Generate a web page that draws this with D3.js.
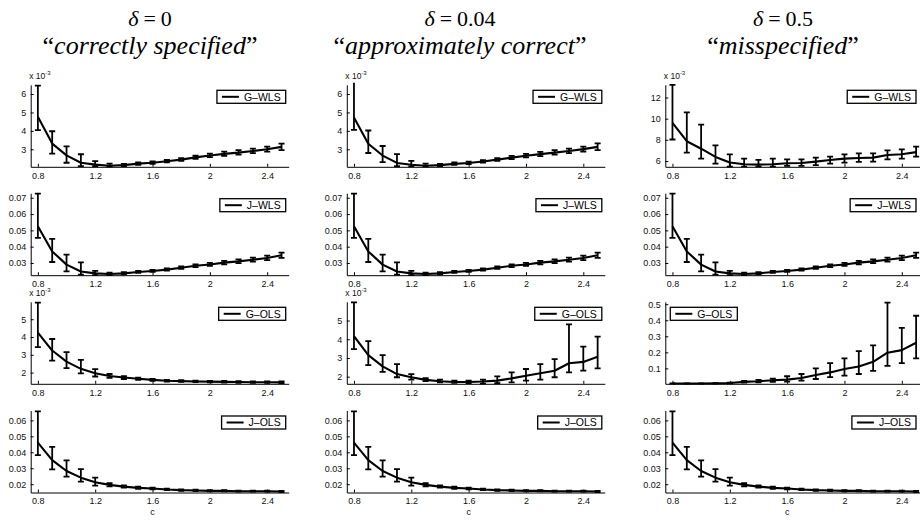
<!DOCTYPE html>
<html><head><meta charset="utf-8">
<script src="https://cdn.jsdelivr.net/npm/d3@7"></script>
<style>
body{margin:0;background:#fff}svg{display:block}
.serif{font-family:"Liberation Serif","Times New Roman",Times,"DejaVu Serif","Noto Serif",serif}
.sans{font-family:"Liberation Sans",Arial,Helvetica,sans-serif}
</style>
</head><body><svg id="chart" width="920" height="520"></svg>
<script>
// ---------- data ----------
const cValues = [0.8,0.9,1.0,1.1,1.2,1.3,1.4,1.5,1.6,1.7,1.8,1.9,2.0,2.1,2.2,2.3,2.4,2.5];
const xTicks = [0.8,1.2,1.6,2,2.4];

const columnTitles = ["0", "0.04", "0.5"];
const columnSubtitles = ["correctly specified", "approximately correct", "misspecified"];
const seriesNames = ["G–WLS", "J–WLS", "G–OLS", "J–OLS"];

// G-WLS (x 10^-3)
const gwlsD0Mean = [4.76,3.31,2.67,2.27,2.17,2.11,2.14,2.22,2.27,2.35,2.44,2.56,2.66,2.75,2.82,2.91,3.00,3.13];
const gwlsD0Lo   = [4.04,2.77,2.27,2.09,2.08,2.06,2.09,2.16,2.21,2.29,2.37,2.48,2.57,2.64,2.71,2.79,2.87,2.96];
const gwlsD0Hi   = [6.45,3.98,3.16,2.73,2.36,2.22,2.21,2.29,2.34,2.42,2.52,2.65,2.76,2.87,2.95,3.04,3.14,3.31];
const gwlsD004Mean = [4.72,3.30,2.66,2.26,2.16,2.11,2.14,2.21,2.26,2.34,2.44,2.55,2.65,2.74,2.82,2.91,3.01,3.13];
const gwlsD004Lo   = [4.05,2.80,2.30,2.08,2.07,2.06,2.09,2.15,2.20,2.28,2.37,2.47,2.56,2.63,2.71,2.79,2.88,2.96];
const gwlsD004Hi   = [6.70,4.02,3.18,2.74,2.37,2.22,2.21,2.29,2.33,2.41,2.52,2.64,2.75,2.86,2.95,3.04,3.15,3.32];
const gwlsD05Mean = [9.60,7.87,7.16,6.38,5.85,5.69,5.66,5.69,5.78,5.81,5.94,6.10,6.22,6.28,6.32,6.56,6.63,6.84];
const gwlsD05Lo   = [8.03,6.79,6.22,5.75,5.47,5.47,5.47,5.47,5.53,5.53,5.60,5.75,5.85,5.91,5.94,6.16,6.22,6.41];
const gwlsD05Hi   = [13.2,10.6,9.44,7.47,6.63,6.22,6.10,6.22,6.16,6.16,6.32,6.41,6.63,6.72,6.72,7.00,7.10,7.35];

// J-WLS (same for all three columns)
const jwlsMean = [0.0525,0.0371,0.0290,0.0248,0.0236,0.0232,0.0236,0.0245,0.0251,0.0259,0.0271,0.0283,0.0291,0.0302,0.0310,0.0320,0.0331,0.0347];
const jwlsLo   = [0.0454,0.0306,0.0248,0.0228,0.0226,0.0226,0.0230,0.0239,0.0245,0.0253,0.0264,0.0275,0.0282,0.0292,0.0299,0.0308,0.0318,0.0331];
const jwlsHi   = [0.0725,0.0448,0.0351,0.0304,0.0252,0.0240,0.0243,0.0252,0.0258,0.0266,0.0279,0.0292,0.0301,0.0313,0.0322,0.0333,0.0345,0.0363];

// G-OLS
const golsD0Mean = [4.25,3.24,2.62,2.21,1.96,1.81,1.72,1.65,1.59,1.54,1.52,1.50,1.49,1.48,1.47,1.46,1.46,1.45];
const golsD0Lo   = [3.43,2.67,2.25,1.96,1.78,1.71,1.64,1.59,1.54,1.50,1.48,1.46,1.45,1.44,1.43,1.42,1.42,1.41];
const golsD0Hi   = [5.93,3.89,3.15,2.71,2.19,1.92,1.80,1.72,1.65,1.59,1.57,1.55,1.54,1.53,1.52,1.51,1.51,1.50];
const golsD004Mean = [4.17,3.15,2.55,2.14,1.97,1.83,1.76,1.72,1.72,1.74,1.79,1.91,2.05,2.18,2.32,2.72,2.79,3.06];
const golsD004Lo   = [3.47,2.62,2.26,1.97,1.84,1.76,1.70,1.67,1.66,1.63,1.65,1.70,1.79,1.84,1.97,2.23,2.32,2.44];
const golsD004Hi   = [5.97,3.90,3.15,2.67,2.14,1.92,1.84,1.79,1.79,1.84,2.02,2.23,2.41,2.67,2.94,4.79,3.61,4.14];
const golsD05Mean = [0.006,0.006,0.006,0.007,0.009,0.016,0.020,0.026,0.030,0.040,0.059,0.075,0.096,0.112,0.141,0.198,0.214,0.260];
const golsD05Lo   = [0.005,0.005,0.005,0.006,0.007,0.011,0.013,0.016,0.018,0.024,0.034,0.045,0.055,0.065,0.085,0.116,0.133,0.163];
const golsD05Hi   = [0.007,0.007,0.007,0.008,0.011,0.022,0.028,0.036,0.051,0.065,0.100,0.133,0.162,0.208,0.243,0.510,0.352,0.428];

// J-OLS (same for all three columns)
const jolsMean = [0.0461,0.0351,0.0283,0.0241,0.0212,0.0196,0.0185,0.0177,0.0173,0.0167,0.0163,0.0161,0.0158,0.0158,0.0156,0.0156,0.0156,0.0154];
const jolsLo   = [0.0382,0.0293,0.0247,0.0216,0.0191,0.0186,0.0178,0.0171,0.0168,0.0163,0.0159,0.0157,0.0155,0.0155,0.0153,0.0153,0.0153,0.0151];
const jolsHi   = [0.0656,0.0434,0.0349,0.0295,0.0241,0.0207,0.0193,0.0184,0.0179,0.0172,0.0168,0.0166,0.0162,0.0162,0.0160,0.0160,0.0160,0.0158];

// y-axis ticks per panel
const yTicksGwls = [3,4,5,6];
const yTicksGwls05 = [6,8,10,12];
const yTicksJwls = [0.03,0.04,0.05,0.06,0.07];
const yTicksGols = [2,3,4,5];
const yTicksGols05 = [0.1,0.2,0.3,0.4,0.5];
const yTicksJols = [0.02,0.03,0.04,0.05,0.06];

// ---------- layout ----------
const colLeft = [30.7, 346.8, 665.3];
const rowTop = [84.8, 193.2, 301.8, 410.5];
const axW = 258, axH = 82;
const xDomain = [0.75, 2.55];
const titleCenter = [150, 460, 783];

const panels = [
  {col:0,row:0,name:seriesNames[0],m:gwlsD0Mean,lo:gwlsD0Lo,hi:gwlsD0Hi,ylim:[2.05,6.5],ticks:yTicksGwls,exp:true,leg:"r"},
  {col:1,row:0,name:seriesNames[0],m:gwlsD004Mean,lo:gwlsD004Lo,hi:gwlsD004Hi,ylim:[2.05,6.5],ticks:yTicksGwls,exp:true,leg:"r"},
  {col:2,row:0,name:seriesNames[0],m:gwlsD05Mean,lo:gwlsD05Lo,hi:gwlsD05Hi,ylim:[5.45,13.2],ticks:yTicksGwls05,exp:true,leg:"r"},
  {col:0,row:1,name:seriesNames[1],m:jwlsMean,lo:jwlsLo,hi:jwlsHi,ylim:[0.0225,0.0728],ticks:yTicksJwls,exp:false,leg:"r"},
  {col:1,row:1,name:seriesNames[1],m:jwlsMean,lo:jwlsLo,hi:jwlsHi,ylim:[0.0225,0.0728],ticks:yTicksJwls,exp:false,leg:"r"},
  {col:2,row:1,name:seriesNames[1],m:jwlsMean,lo:jwlsLo,hi:jwlsHi,ylim:[0.0225,0.0728],ticks:yTicksJwls,exp:false,leg:"r"},
  {col:0,row:2,name:seriesNames[2],m:golsD0Mean,lo:golsD0Lo,hi:golsD0Hi,ylim:[1.37,5.98],ticks:yTicksGols,exp:true,leg:"r"},
  {col:1,row:2,name:seriesNames[2],m:golsD004Mean,lo:golsD004Lo,hi:golsD004Hi,ylim:[1.62,6.0],ticks:yTicksGols,exp:true,leg:"r"},
  {col:2,row:2,name:seriesNames[2],m:golsD05Mean,lo:golsD05Lo,hi:golsD05Hi,ylim:[0.004,0.515],ticks:yTicksGols05,exp:false,leg:"l"},
  {col:0,row:3,name:seriesNames[3],m:jolsMean,lo:jolsLo,hi:jolsHi,ylim:[0.0148,0.0662],ticks:yTicksJols,exp:false,leg:"r"},
  {col:1,row:3,name:seriesNames[3],m:jolsMean,lo:jolsLo,hi:jolsHi,ylim:[0.0148,0.0662],ticks:yTicksJols,exp:false,leg:"r"},
  {col:2,row:3,name:seriesNames[3],m:jolsMean,lo:jolsLo,hi:jolsHi,ylim:[0.0148,0.0662],ticks:yTicksJols,exp:false,leg:"r"}
];

const svg = d3.select("#chart");

// titles
function titleLine(i, y, size, build) {
  const t = svg.append("text").attr("class", "serif").attr("x", titleCenter[i]).attr("y", y)
    .attr("text-anchor", "middle").attr("fill", "#000").style("font-size", size + "px");
  build(t);
  return t;
}
const line2 = [];
columnTitles.forEach((tt, i) => {
  titleLine(i, 26, 22, t => {
    t.append("tspan").attr("font-style", "italic").text("δ");
    t.append("tspan").attr("dx", 5).text("=");
    t.append("tspan").attr("dx", 5).text(tt);
  });
  line2.push(titleLine(i, 53.5, 20, t => {
    t.append("tspan").text("\u201C");
    t.append("tspan").attr("font-style", "italic").text(columnSubtitles[i]);
    t.append("tspan").text("\u201D");
  }));
});
const w2 = line2[0].node().getComputedTextLength();
const fs2 = Math.min(26, 20 * 217 / w2);
line2.forEach(t => t.style("font-size", fs2 + "px"));

const defs = svg.append("defs");

panels.forEach((p, idx) => {
  const x0 = colLeft[p.col], y0 = rowTop[p.row];
  const x = d3.scaleLinear().domain(xDomain).range([x0, x0 + axW]);
  const y = d3.scaleLinear().domain(p.ylim).range([y0 + axH, y0]);
  const g = svg.append("g");

  const xa = g.append("g").attr("transform", `translate(0,${y0 + axH})`)
    .call(d3.axisBottom(x).tickValues(xTicks).tickSize(-3).tickSizeOuter(0).tickPadding(5.5).tickFormat(d => String(d)));
  const ya = g.append("g").attr("transform", `translate(${x0},0)`)
    .call(d3.axisLeft(y).tickValues(p.ticks).tickSize(-3).tickSizeOuter(0).tickPadding(4.5).tickFormat(d => String(d)));
  [xa, ya].forEach(a => {
    a.attr("font-family", null).attr("font-size", null).attr("class", "sans").style("font-size", "9px");
    a.selectAll("path.domain").attr("stroke", "#000").attr("stroke-width", 1);
    a.selectAll(".tick line").attr("stroke", "#000").attr("stroke-width", 1);
    a.selectAll(".tick text").attr("fill", "#111");
  });

  if (p.exp) {
    const e = g.append("text").attr("class", "sans").attr("x", x0 - 1.5).attr("y", y0 - 5.5)
      .style("font-size", "8.5px").attr("fill", "#111");
    e.append("tspan").text("x 10");
    e.append("tspan").style("font-size", "6px").attr("dy", -4).text("-3");
  }

  const clipId = "clip" + idx;
  defs.append("clipPath").attr("id", clipId).append("rect")
    .attr("x", x0 - 1).attr("y", y0 - 2).attr("width", axW + 2).attr("height", axH + 3);
  const plot = g.append("g").attr("clip-path", `url(#${clipId})`);

  const pts = cValues.map((c, i) => ({c, m: p.m[i], lo: p.lo[i], hi: p.hi[i]}));
  const bars = plot.append("g").attr("stroke", "#000").attr("stroke-width", 1.8).attr("fill", "none");
  pts.forEach(d => {
    const xc = x(d.c);
    bars.append("path").attr("d",
      `M${xc},${y(d.lo)}V${y(d.hi)}M${xc - 3},${y(d.lo)}H${xc + 3}M${xc - 3},${y(d.hi)}H${xc + 3}`);
  });
  plot.append("path").datum(pts)
    .attr("fill", "none").attr("stroke", "#000").attr("stroke-width", 2.1).attr("stroke-linejoin", "round")
    .attr("d", d3.line().x(d => x(d.c)).y(d => y(d.m)));

  // legend
  const lg = g.append("g");
  const lt = lg.append("text").attr("class", "sans").style("font-size", "10.5px").attr("fill", "#000").text(p.name);
  const tw = lt.node().getComputedTextLength();
  const bw = 27 + tw + 5, bh = 13;
  const bx = p.leg === "r" ? Math.min(x0 + axW - 3 - bw, 916 - bw) : x0 + 5;
  const by = y0 + 5.5;
  lg.insert("rect", "text").attr("x", bx).attr("y", by).attr("width", bw).attr("height", bh)
    .attr("fill", "#fff").attr("stroke", "#000").attr("stroke-width", 1.3);
  lg.append("line").attr("x1", bx + 5).attr("x2", bx + 22).attr("y1", by + bh / 2).attr("y2", by + bh / 2)
    .attr("stroke", "#000").attr("stroke-width", 2);
  lt.attr("x", bx + 27).attr("y", by + bh / 2 + 3.7);

  if (p.row === 3) {
    g.append("text").attr("class", "sans").attr("x", x(1.6)).attr("y", 514.5).attr("text-anchor", "middle")
      .style("font-size", "9px").attr("fill", "#111").text("c");
  }
});
</script>
</body></html>
